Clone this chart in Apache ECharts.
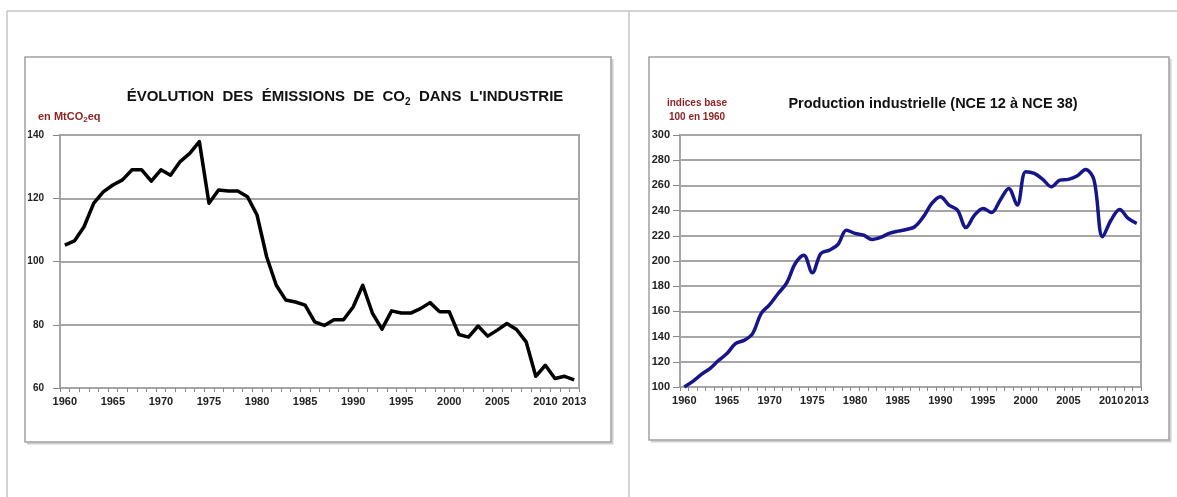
<!DOCTYPE html>
<html>
<head>
<meta charset="utf-8">
<script src="https://cdn.jsdelivr.net/npm/echarts@6/dist/echarts.min.js"></script>
<style>
  html, body { margin: 0; padding: 0; background: #fff; }
  #chart { width: 1177px; height: 497px; }
</style>
</head>
<body>
<div id="chart"></div>
<script>
// Years shared by both panels
const years = ['1960','1961','1962','1963','1964','1965','1966','1967','1968','1969',
  '1970','1971','1972','1973','1974','1975','1976','1977','1978','1979',
  '1980','1981','1982','1983','1984','1985','1986','1987','1988','1989',
  '1990','1991','1992','1993','1994','1995','1996','1997','1998','1999',
  '2000','2001','2002','2003','2004','2005','2006','2007','2008','2009',
  '2010','2011','2012','2013'];

// CO2 emissions of industry, MtCO2eq
const emissions = [105.2,106.5,111,118.4,122,124.2,125.8,129,129,125.4,
  129,127.3,131.6,134.2,137.9,118.4,122.6,122.3,122.3,120.5,
  114.7,101.5,92.5,87.8,87.2,86.2,80.9,79.8,81.6,81.6,
  85.6,92.5,83.7,78.6,84.4,83.7,83.7,85.1,87,84.1,
  84.1,76.9,76.1,79.6,76.4,78.3,80.4,78.5,74.6,63.7,
  67.2,63,63.7,62.6];

// Industrial production index, base 100 in 1960
const production = [100,104.5,110,114.6,121,126.5,134.4,137,142.4,158.3,
  165.4,174.2,182.6,198,204.6,190.6,206,208.6,213.1,224.5,
  221.9,220.5,217.1,218.7,221.9,223.7,225,227.2,235,245.7,
  251,244.4,240.4,226.6,236.4,241.7,238.5,248.3,257.6,244.4,
  270.9,269.5,264.8,258.9,264.2,264.8,267.4,272.7,264.2,219.2,
  232.5,240.9,233.8,229.8];

const leftTitle = ['ÉVOLUTION  DES  ÉMISSIONS  DE  CO', '2', '  DANS  L\'INDUSTRIE'];
const leftUnit = ['en MtCO', '2', 'eq'];
const rightTitle = 'Production industrielle (NCE 12 à NCE 38)';
const rightUnit = 'indices base\n100 en 1960';

const FONT = '"Liberation Sans", Arial, sans-serif';
const UNIT_RED = '#8e2424';
const GRID_GRAY = '#a6a6a6';

function xAxisFor(gridIndex) {
  return {
    type: 'category', gridIndex, data: years, boundaryGap: true,
    axisLine: { lineStyle: { color: GRID_GRAY, width: 2 } },
    axisTick: { show: true, interval: 0, length: 4, lineStyle: { color: '#888', width: 1 } },
    axisLabel: {
      interval: (i) => i % 5 === 0 || i === years.length - 1,
      color: '#222', fontFamily: FONT, fontSize: 11, fontWeight: 'bold', margin: 8
    },
    splitLine: { show: false }
  };
}
function yAxisFor(gridIndex, min, max, step, fs, margin) {
  return {
    type: 'value', gridIndex, min, max, interval: step,
    axisLine: { show: true, lineStyle: { color: GRID_GRAY, width: 2 } },
    axisTick: { show: true, length: 7, lineStyle: { color: '#888', width: 1 } },
    axisLabel: { color: '#222', fontFamily: FONT, fontSize: fs, fontWeight: 'bold', margin },
    splitLine: { show: true, lineStyle: { color: GRID_GRAY, width: 2 } }
  };
}

const chart = echarts.init(document.getElementById('chart'), null, { renderer: 'canvas' });
chart.setOption({
  backgroundColor: '#fff',
  animation: false,
  graphic: [
    // page frame
    { type: 'line', shape: { x1: 7, y1: 11, x2: 1177, y2: 11 }, style: { stroke: '#c4c4c4', lineWidth: 1.5 } },
    { type: 'line', shape: { x1: 7, y1: 11, x2: 7, y2: 497 }, style: { stroke: '#c4c4c4', lineWidth: 1.5 } },
    { type: 'line', shape: { x1: 629, y1: 11, x2: 629, y2: 497 }, style: { stroke: '#c4c4c4', lineWidth: 1.5 } },
    // panel shadows
    { type: 'polyline', shape: { points: [[27, 443.5], [612.5, 443.5], [612.5, 59]] }, style: { stroke: '#d0d0d0', lineWidth: 2, fill: 'none' } },
    { type: 'polyline', shape: { points: [[651, 441.5], [1170.5, 441.5], [1170.5, 59]] }, style: { stroke: '#d0d0d0', lineWidth: 2, fill: 'none' } },
    // panel boxes
    { type: 'rect', shape: { x: 25, y: 57, width: 586, height: 385 }, style: { stroke: '#a0a0a0', lineWidth: 1.5, fill: 'none' } },
    { type: 'rect', shape: { x: 649, y: 57, width: 520, height: 383 }, style: { stroke: '#a0a0a0', lineWidth: 1.5, fill: 'none' } }
  ],
  title: [
    {
      text: '{t|' + leftTitle[0] + '}{s|' + leftTitle[1] + '}{t|' + leftTitle[2] + '}',
      left: 345, top: 85, textAlign: 'center', padding: 0,
      textStyle: {
        rich: {
          t: { fontFamily: FONT, fontSize: 15, fontWeight: 'bold', color: '#111', lineHeight: 19, verticalAlign: 'bottom' },
          s: { fontFamily: FONT, fontSize: 10, fontWeight: 'bold', color: '#111', lineHeight: 19, verticalAlign: 'bottom', padding: [0, 0, -3, 0] }
        }
      }
    },
    {
      text: '{t|' + leftUnit[0] + '}{s|' + leftUnit[1] + '}{t|' + leftUnit[2] + '}',
      left: 38, top: 108, padding: 0,
      textStyle: {
        rich: {
          t: { fontFamily: FONT, fontSize: 11, fontWeight: 'bold', color: UNIT_RED, lineHeight: 14, verticalAlign: 'bottom' },
          s: { fontFamily: FONT, fontSize: 8, fontWeight: 'bold', color: UNIT_RED, lineHeight: 14, verticalAlign: 'bottom', padding: [0, 0, -2, 0] }
        }
      }
    },
    {
      text: rightTitle,
      left: 933, top: 96, textAlign: 'center', padding: 0,
      textStyle: { fontFamily: FONT, fontSize: 14.5, fontWeight: 'bold', color: '#111' }
    },
    {
      text: rightUnit,
      left: 697, top: 96, textAlign: 'center', padding: 0,
      textStyle: { fontFamily: FONT, fontSize: 10, fontWeight: 'bold', color: UNIT_RED, lineHeight: 14, align: 'center' }
    }
  ],
  grid: [
    { left: 60, top: 135, width: 519, height: 253, show: true, borderColor: GRID_GRAY, borderWidth: 2, backgroundColor: 'transparent' },
    { left: 680, top: 135, width: 461, height: 252, show: true, borderColor: GRID_GRAY, borderWidth: 2, backgroundColor: 'transparent' }
  ],
  xAxis: [xAxisFor(0), xAxisFor(1)],
  yAxis: [yAxisFor(0, 60, 140, 20, 10, 16), yAxisFor(1, 100, 300, 20, 11, 10)],
  series: [
    {
      type: 'line', xAxisIndex: 0, yAxisIndex: 0, data: emissions,
      showSymbol: false, smooth: false,
      lineStyle: { color: '#000', width: 3.5, join: 'round' }
    },
    {
      type: 'line', xAxisIndex: 1, yAxisIndex: 1, data: production,
      showSymbol: false, smooth: 0.35,
      lineStyle: { color: '#16168a', width: 3.5 }
    }
  ]
});
</script>
</body>
</html>
